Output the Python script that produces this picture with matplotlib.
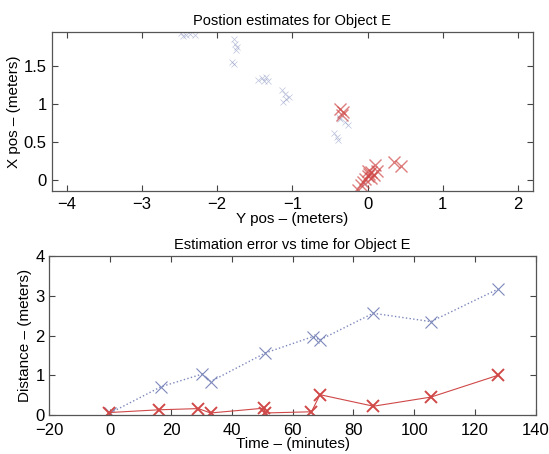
import matplotlib
matplotlib.use('Agg')
import matplotlib.pyplot as plt

plt.rcParams['font.family'] = ['Liberation Sans', 'DejaVu Sans']

# --- position estimates (top panel): horizontal = Y pos, vertical = X pos ---
blue_ypos = [-2.48, -2.42, -2.36, -2.30, -2.45,
             -1.78, -1.76, -1.74, -1.75,
             -1.80, -1.77,
             -1.45, -1.40, -1.35, -1.32, -1.38,
             -1.14, -1.10, -1.08, -1.12, -1.05,
             -0.36, -0.30, -0.26, -0.38,
             -0.44, -0.41, -0.39,
             -0.05, 0.00]
blue_xpos = [1.94, 1.92, 1.93, 1.91, 1.90,
             1.86, 1.80, 1.76, 1.71,
             1.56, 1.53,
             1.32, 1.34, 1.36, 1.31, 1.30,
             1.18, 1.13, 1.07, 1.03, 1.10,
             0.80, 0.76, 0.73, 0.83,
             0.62, 0.57, 0.52,
             -0.05, 0.05]

red_ypos = [-0.36, -0.32, -0.34,
            -0.13, -0.09, -0.06, -0.03, 0.00, 0.02, 0.05, 0.08, 0.12, 0.10, 0.00, 0.04,
            0.35, 0.44]
red_xpos = [0.93, 0.90, 0.86,
            -0.13, -0.07, -0.03, 0.01, 0.05, 0.08, 0.10, 0.06, 0.12, 0.20, 0.12, 0.03,
            0.24, 0.18]

# --- estimation error vs time (bottom panel) ---
blue_time = [0, 16.7, 30.3, 33, 51, 66.6, 69, 86.5, 105.5, 127.6]
blue_err = [0.05, 0.71, 1.03, 0.84, 1.56, 1.97, 1.89, 2.56, 2.35, 3.17]

red_time = [-0.5, 16, 29, 33, 50.5, 51, 66.2, 69, 86.6, 105.5, 127.6]
red_err = [0.06, 0.13, 0.16, 0.05, 0.17, 0.05, 0.08, 0.51, 0.22, 0.45, 1.0]

BLUE = '#7d88bb'
RED = '#d04848'

fig = plt.figure(figsize=(5.49, 4.54), dpi=100)
ax1 = fig.add_axes([0.094, 0.579, 0.877, 0.350])
ax2 = fig.add_axes([0.090, 0.086, 0.886, 0.350])

for ax in (ax1, ax2):
    ax.tick_params(direction='in', top=True, right=True, labelsize=12,
                   length=4, width=0.8, color='#444444')
    for s in ax.spines.values():
        s.set_color('#555555')
        s.set_linewidth(0.9)
ax1.tick_params(axis='x', pad=4)
ax2.tick_params(axis='x', pad=6)

ax1.plot(blue_ypos, blue_xpos, linestyle='none', marker='x', ms=4, mew=0.5,
         color=BLUE, alpha=0.5)
ax1.plot(red_ypos, red_xpos, linestyle='none', marker='x', ms=8, mew=1.0,
         color=RED, alpha=0.7)
ax1.set_xlim(-4.2, 2.2)
ax1.set_ylim(-0.15, 1.95)
ax1.set_xticks([-4, -3, -2, -1, 0, 1, 2])
ax1.set_yticks([0, 0.5, 1, 1.5])
ax1.set_yticklabels(['0', '0.5', '1', '1.5'])
ax1.set_xlabel('Y pos \u2013 (meters)', fontsize=11, labelpad=0)
ax1.set_ylabel('X pos \u2013 (meters)', fontsize=11, labelpad=2)
ax1.set_title('Postion estimates for Object E', fontsize=10.5, pad=5)

ax2.plot(blue_time, blue_err, linestyle=':', linewidth=1.0, marker='x', ms=8,
         mew=0.8, color=BLUE)
ax2.plot(red_time, red_err, linestyle='-', linewidth=0.8, marker='x', ms=9,
         mew=1.4, color=RED)
ax2.set_xlim(-20, 140)
ax2.set_ylim(0, 4)
ax2.set_xticks(range(-20, 141, 20))
ax2.set_yticks([0, 1, 2, 3, 4])
ax2.set_xlabel('Time \u2013 (minutes)', fontsize=11, labelpad=-1)
ax2.set_ylabel('Distance \u2013 (meters)', fontsize=11, labelpad=2)
ax2.set_title('Estimation error vs time for Object E', fontsize=10.5, pad=5)

fig.savefig('out.png', dpi=100)
